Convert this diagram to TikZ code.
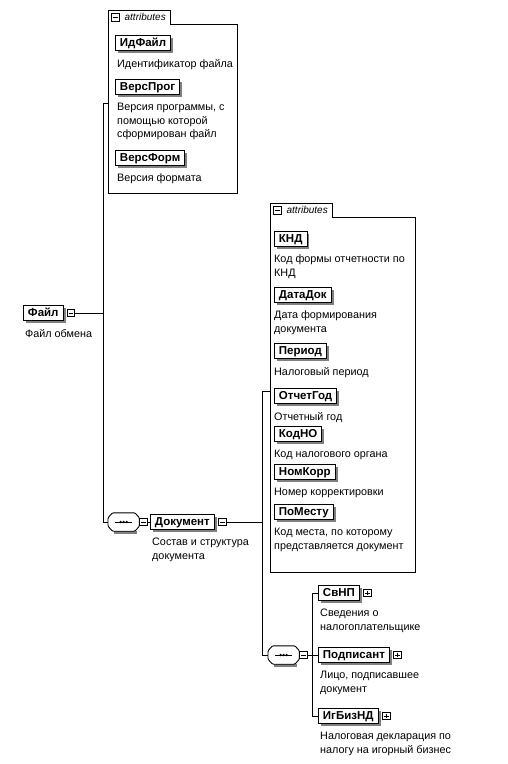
\documentclass[tikz,border=0pt]{standalone}
\usepackage{fontspec}
\setmainfont{Liberation Sans}
\usetikzlibrary{positioning, shadows}
\tikzset{
  elem/.style={draw, fill=white, line width=0.9pt, anchor=west, font=\fontsize{11.5}{13}\selectfont\bfseries,
    inner xsep=4.5pt, inner ysep=2pt, text height=8.5pt, text depth=2.5pt,
    drop shadow={shadow xshift=2.5pt, shadow yshift=-2.5pt, fill=black!50, opacity=1}},
  desc/.style={align=left, inner sep=0pt, font=\fontsize{10.8}{13.5}\selectfont},
  toggle/.style={draw, fill=white, line width=0.6pt, minimum size=7.5pt, inner sep=0pt, anchor=west},
  collapse/.style={toggle, path picture={\draw[line width=0.6pt] ([xshift=1.3pt]path picture bounding box.west) -- ([xshift=-1.3pt]path picture bounding box.east);}},
  expand/.style={toggle, path picture={\draw[line width=0.6pt] ([xshift=1.3pt]path picture bounding box.west) -- ([xshift=-1.3pt]path picture bounding box.east)
    ([yshift=-1.3pt]path picture bounding box.north) -- ([yshift=1.3pt]path picture bounding box.south);}},
  seq/.style={minimum width=31pt, minimum height=18pt, inner sep=0pt, anchor=west},
  seqline/.style={line width=0.9pt, rounded corners=1pt},
  attrbody/.style={anchor=north west, inner sep=0pt},
  attrtab/.style={anchor=south west, inner sep=0pt, minimum width=62pt, minimum height=13pt, font=\fontsize{10}{12}\selectfont\itshape},
  link/.style={line width=0.8pt},
}
% outline of a sequence compositor drawn round a placeholder node
\newcommand{\seqframe}[1]{%
  \fill[black!50] ([xshift=6pt,yshift=-3pt]#1.south west) rectangle ([xshift=-2pt]#1.south east);
  \draw[seqline, fill=white] ([xshift=4.5pt]#1.north west) -- ([xshift=-4.5pt]#1.north east) -- ([yshift=-5pt]#1.north east)
    -- ([yshift=5pt]#1.south east) -- ([xshift=-4.5pt]#1.south east) -- ([xshift=4.5pt]#1.south west)
    -- ([yshift=5pt]#1.south west) -- ([yshift=-5pt]#1.north west) -- cycle;
  \draw[line width=0.8pt] ([xshift=7pt]#1.west) -- ([xshift=-7pt]#1.east);
  \fill ([xshift=-3pt]#1.center) circle (1.3pt) (#1.center) circle (1.3pt) ([xshift=3pt]#1.center) circle (1.3pt);}

\begin{document}
\begin{tikzpicture}[x=1pt, y=1pt]
\useasboundingbox (0,0) rectangle (507,-764);

% root element
\node[elem] (file) at (23,-313) {Файл};
\node[collapse, right=3.5pt of file] (filetog) {};
\node[desc, below=8pt of file.south west, anchor=north west, xshift=2pt] (filedesc) {Файл обмена};

% attributes of Файл
\node[attrbody, minimum width=129pt, minimum height=169pt] (attrs1) at (108,-24) {};
\node[attrtab] (tab1) at (attrs1.north west) {\hspace*{12pt}attributes};
\node[collapse] (tab1tog) at ([xshift=3pt]tab1.west) {};
\draw[link] (attrs1.south west) |- (tab1.north east) |- (attrs1.north east) -- (attrs1.south east) -- cycle;

\node[elem] (idfile) at (115,-43) {ИдФайл};
\node[desc, below=8pt of idfile.south west, anchor=north west, xshift=2pt] (idfiledesc) {Идентификатор файла};
\node[elem] (versprog) at (115,-87) {ВерсПрог};
\node[desc, below=8pt of versprog.south west, anchor=north west, xshift=2pt] (versprogdesc) {Версия программы, с\\помощью которой\\сформирован файл};
\node[elem] (versform) at (115,-158) {ВерсФорм};
\node[desc, below=8pt of versform.south west, anchor=north west, xshift=2pt] (versformdesc) {Версия формата};

% sequence under Файл
\node[seq] (seq1) at (108,-522) {};
\seqframe{seq1}
\node[collapse, right=0pt of seq1] (seq1tog) {};
\node[elem] (doc) at (150,-522) {Документ};
\node[collapse, right=3.5pt of doc] (doctog) {};
\node[desc, below=8pt of doc.south west, anchor=north west, xshift=2pt] (docdesc) {Состав и структура\\документа};

% attributes of Документ
\node[attrbody, minimum width=145pt, minimum height=355pt] (attrs2) at (270,-217) {};
\node[attrtab] (tab2) at (attrs2.north west) {\hspace*{12pt}attributes};
\node[collapse] (tab2tog) at ([xshift=3pt]tab2.west) {};
\draw[link] (attrs2.south west) |- (tab2.north east) |- (attrs2.north east) -- (attrs2.south east) -- cycle;

\node[elem] (knd) at (274,-239) {КНД};
\node[desc, below=8pt of knd.south west, anchor=north west] (knddesc) {Код формы отчетности по\\КНД};
\node[elem] (datadok) at (274,-295) {ДатаДок};
\node[desc, below=8pt of datadok.south west, anchor=north west] (datadokdesc) {Дата формирования\\документа};
\node[elem] (period) at (274,-351) {Период};
\node[desc, below=8pt of period.south west, anchor=north west] (perioddesc) {Налоговый период};
\node[elem] (otchgod) at (274,-396) {ОтчетГод};
\node[desc, below=8pt of otchgod.south west, anchor=north west] (otchgoddesc) {Отчетный год};
\node[elem] (kodno) at (274,-434) {КодНО};
\node[desc, below=8pt of kodno.south west, anchor=north west] (kodnodesc) {Код налогового органа};
\node[elem] (nomkorr) at (274,-472) {НомКорр};
\node[desc, below=8pt of nomkorr.south west, anchor=north west] (nomkorrdesc) {Номер корректировки};
\node[elem] (pomestu) at (274,-512) {ПоМесту};
\node[desc, below=8pt of pomestu.south west, anchor=north west] (pomestudesc) {Код места, по которому\\представляется документ};

% sequence under Документ
\node[seq] (seq2) at (268,-655) {};
\seqframe{seq2}
\node[collapse, right=0pt of seq2] (seq2tog) {};
\node[elem] (svnp) at (318,-593) {СвНП};
\node[expand, right=3.5pt of svnp] (svnptog) {};
\node[desc, below=8pt of svnp.south west, anchor=north west, xshift=2pt] (svnpdesc) {Сведения о\\налогоплательщике};
\node[elem] (podp) at (318,-655) {Подписант};
\node[expand, right=3.5pt of podp] (podptog) {};
\node[desc, below=8pt of podp.south west, anchor=north west, xshift=2pt] (podpdesc) {Лицо, подписавшее\\документ};
\node[elem] (igbiz) at (318,-716) {ИгБизНД};
\node[expand, right=3.5pt of igbiz] (igbiztog) {};
\node[desc, below=8pt of igbiz.south west, anchor=north west, xshift=2pt] (igbizdesc) {Налоговая декларация по\\налогу на игорный бизнес};

% connectors
\coordinate (lane1) at (103,-103);
\coordinate (lane2) at (262,-391);
\coordinate (lane3) at (312,-593);
\draw[link] (attrs1.west |- lane1) -- (lane1) |- (seq1.west);
\draw[link] (filetog.east) -- (filetog.east -| lane1);
\draw[link] (seq1tog.east) -- (doc.west);
\draw[link] (attrs2.west |- lane2) -- (lane2) |- (seq2.west);
\draw[link] (doctog.east) -- (doctog.east -| lane2);
\draw[link] (svnp.west) -- (lane3) |- (igbiz.west);
\draw[link] (seq2tog.east) -- (podp.west);
\end{tikzpicture}
\end{document}
